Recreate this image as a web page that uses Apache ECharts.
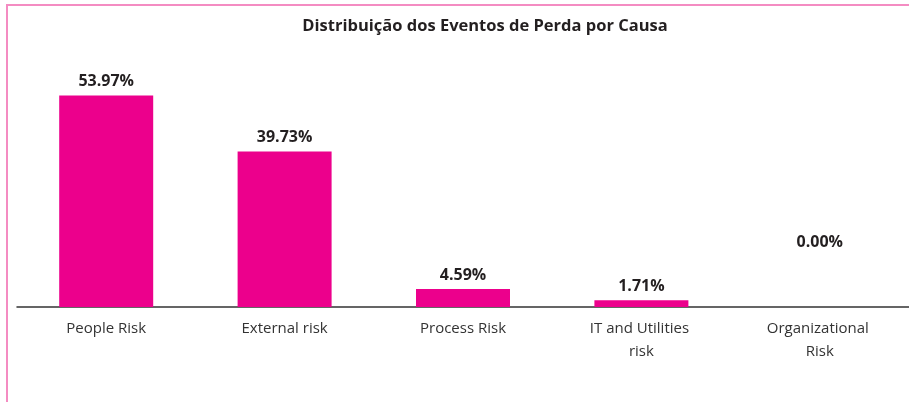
<!DOCTYPE html>
<html>
<head>
<meta charset="utf-8">
<script src="https://cdn.jsdelivr.net/npm/echarts@6/dist/echarts.min.js"></script>
<style>
  body { margin: 0; background: #fff; }
  #wrap { position: relative; width: 909px; height: 402px; }
  #main { width: 909px; height: 402px; }
  .frame {
    position: absolute; left: 6px; top: 4px; right: 0; bottom: 0;
    border-left: 2px solid #f48cc2; border-top: 2px solid #f48cc2;
    pointer-events: none;
  }
</style>
</head>
<body>
<div id="wrap">
  <div id="main"></div>
  <div class="frame"></div>
</div>
<script>
// 损失事件按原因分布
var causes = ['People Risk', 'External risk', 'Process Risk', 'IT and Utilities risk', 'Organizational Risk']
var shares = [53.97, 39.73, 4.59, 1.71, 0.00]

var myChart = echarts.init(document.getElementById('main'))
myChart.setOption({
  animation: false,
  title: {
    text: 'Distribuição dos Eventos de Perda por Causa',
    left: 480,
    top: 13,
    textAlign: 'center',
    textStyle: {
      fontFamily: 'Open Sans',
      fontSize: 16.5,
      fontWeight: 'bold',
      color: '#231f20'
    }
  },
  grid: {
    left: 17,
    right: 0,
    top: 72,
    bottom: 95
  },
  xAxis: {
    type: 'category',
    data: causes,
    axisLine: {
      lineStyle: { color: '#333', width: 1.5 }
    },
    axisTick: { show: false },
    axisLabel: {
      interval: 0,
      margin: 10,
      width: 125,
      overflow: 'break',
      lineHeight: 23,
      fontFamily: 'Open Sans',
      fontSize: 15,
      color: '#333'
    }
  },
  yAxis: {
    type: 'value',
    min: 0,
    max: 60,
    show: false
  },
  series: [{
    type: 'bar',
    barWidth: 94,
    itemStyle: { color: '#ec008c' },
    label: {
      show: true,
      position: 'top',
      distance: 6,
      fontFamily: 'Open Sans',
      fontSize: 16,
      fontWeight: 'bold',
      color: '#231f20',
      formatter: function (p) {
        return p.value.toFixed(2) + '%'
      }
    },
    data: shares.map(function (v) {
      // 0% 的标签在原图中浮在较高位置
      return v === 0 ? { value: v, label: { distance: 57 } } : v
    })
  }]
})
</script>
</body>
</html>
